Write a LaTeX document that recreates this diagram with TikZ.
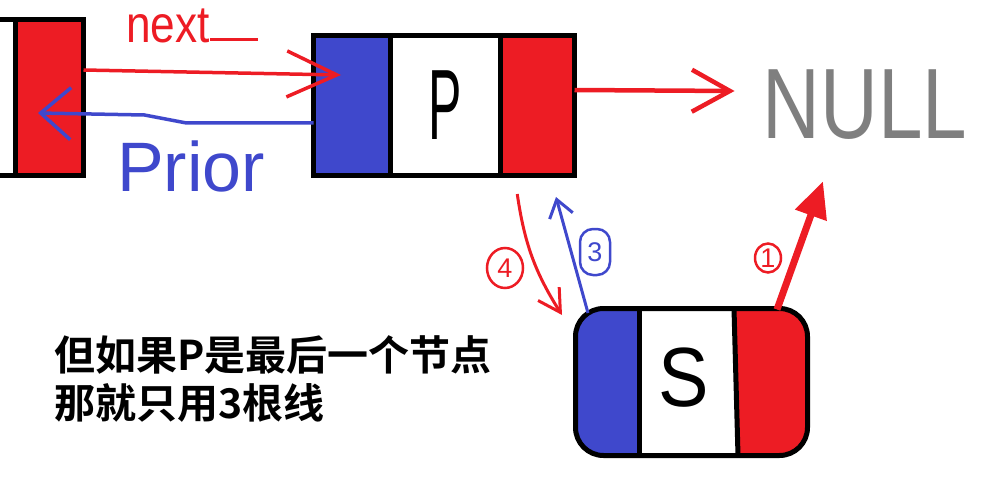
\documentclass[tikz,border=0pt]{standalone}
\usepackage{graphicx}
\usepackage{fontspec}
\newfontfamily\hand{Liberation Sans}
\newfontfamily\cjk{Noto Sans CJK SC Bold}
\usetikzlibrary{positioning,arrows.meta,shapes.geometric}
\definecolor{pred}{RGB}{237,28,36}
\definecolor{pblue}{RGB}{63,72,204}
\definecolor{pgray}{RGB}{127,127,127}

\begin{document}
\begin{tikzpicture}[x=1pt,y=-1pt,
		cell/.style={draw=black,line width=5pt,minimum height=140pt,inner sep=0pt,outer sep=0pt},
		link/.style={line width=3.5pt},
		num/.style={draw,line width=2.5pt,inner sep=0pt,font=\hand\fontsize{27}{27}\selectfont}]
		\useasboundingbox (0,0) rectangle (994,484);

		\node[cell,fill=pred,minimum width=68.5pt,minimum height=156pt,anchor=north east] (lnext) at (83.5,19.5) {};
		\node[cell,minimum width=40pt,minimum height=156pt,left=0pt of lnext] (ldata) {};

		\node[cell,fill=pblue,minimum width=77pt,anchor=north west] (pprior) at (313.5,35.5) {};
		\node[cell,minimum width=109.5pt,right=0pt of pprior,font=\hand\fontsize{100}{100}\selectfont] (pdata) {\scalebox{0.5}[1]{P}};
		\node[cell,fill=pred,minimum width=74.5pt,right=0pt of pdata] (pnext) {};

		\node[draw,line width=5pt,rounded corners=28pt,minimum width=232pt,minimum height=147pt,inner sep=0pt,outer sep=0pt,anchor=north west,
			path picture={
				\fill[pblue,sharp corners] (path picture bounding box.north west) rectangle ([xshift=64pt]path picture bounding box.south west);
				\fill[pred,sharp corners] ([xshift=-73.5pt]path picture bounding box.north east) -- (path picture bounding box.north east) -- (path picture bounding box.south east) -- ([xshift=-69.5pt]path picture bounding box.south east) -- cycle;
				\draw[line width=5pt,sharp corners] ([xshift=64pt]path picture bounding box.north west) -- ([xshift=64pt]path picture bounding box.south west);
				\draw[line width=5pt,sharp corners] ([xshift=-73.5pt]path picture bounding box.north east) -- ([xshift=-69.5pt]path picture bounding box.south east);
			}] (snode) at (575.5,308.5) {};
		\node[font=\hand\fontsize{84}{84}\selectfont] (sdata) at (684,378) {\scalebox{0.9}[1]{S}};

		\node[text=pgray,inner xsep=28pt,font=\hand\fontsize{100}{100}\selectfont] (null) at (865,105) {\scalebox{0.8}[1]{NULL}};

		\node[anchor=base west,inner sep=0pt,text=pred,font=\hand\fontsize{52}{52}\selectfont] (next) at (126,43) {\scalebox{0.85}[1]{next}};
		\draw[pred,line width=3pt] ([yshift=3pt]next.base east) -- ++(48,0);
		\node[anchor=base west,inner sep=0pt,text=pblue,font=\hand\fontsize{70}{70}\selectfont] (prior) at (117,192) {Prior};

		\draw[pred,link,-{Straight Barb[length=50pt,width=46pt]}] ([yshift=27.5pt]lnext.east) -- ([xshift=27.5pt,yshift=30.5pt]pprior.west);
		\draw[pblue,link,-{Straight Barb[length=30pt,width=52pt]}] ([yshift=-17.5pt]pprior.west) -- ++(-127,0) -- ++(-42,-8) -- ([xshift=23pt,yshift=-15.5pt]lnext.west);
		\draw[pred,line width=4.5pt,-{Straight Barb[length=38pt,width=42pt]}] ([yshift=15.5pt]pnext.east) -- ([yshift=14pt]null.west);

		\draw[pred,line width=3pt,-{Straight Barb[length=22pt,width=25pt]}] ([xshift=-20pt,yshift=-18.5pt]pnext.south) to[bend right=12] ([xshift=-13.5pt,yshift=-6.5pt]snode.north west);
		\draw[pblue,line width=3pt,-{Straight Barb[length=17pt,width=24pt]}] ([xshift=12.5pt,yshift=-4.5pt]snode.north west) -- ([xshift=18.75pt,yshift=-21.5pt]pnext.south);
		\draw[pred,line width=7pt,-{Triangle[length=36pt,width=32pt]}] ([xshift=-30.5pt,yshift=-1pt]snode.north east) -- ([xshift=-42pt,yshift=-38pt]null.south);

		\node[num,pred,ellipse,minimum width=36pt,minimum height=40pt] (four) at (505,268) {4};
		\node[num,pblue,rounded corners=13pt,minimum width=30pt,minimum height=46pt] (three) at (595,252) {3};
		\node[num,pred,ellipse,minimum width=26pt,minimum height=29pt] (one) at (768,258) {1};

		\node[anchor=north west,inner sep=0pt,align=left,font=\cjk\fontsize{41}{48}\selectfont] (note) at (54,335) {但如果P是最后一个节点\\那就只用3根线};
	\end{tikzpicture}
\end{document}
